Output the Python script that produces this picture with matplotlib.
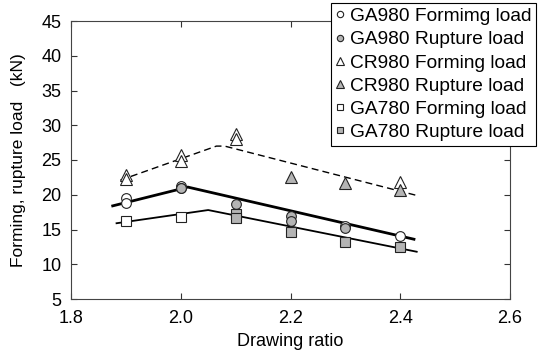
import matplotlib
matplotlib.use("Agg")
import matplotlib.pyplot as plt

plt.rcParams['font.family'] = ['Liberation Sans', 'DejaVu Sans']

# Data points
ga980_form_x = [1.9, 1.9, 2.0, 2.0, 2.3, 2.4]
ga980_form_y = [19.5, 18.8, 21.3, 21.0, 15.5, 14.1]
ga980_rup_x = [2.0, 2.1, 2.2, 2.2, 2.3]
ga980_rup_y = [20.9, 18.7, 17.0, 16.2, 15.2]
cr980_form_x = [1.9, 1.9, 2.0, 2.0, 2.1, 2.1, 2.4]
cr980_form_y = [22.8, 22.3, 25.7, 24.8, 28.7, 28.0, 21.8]
cr980_rup_x = [2.2, 2.3, 2.4]
cr980_rup_y = [22.6, 21.7, 20.7]
ga780_form_x = [1.9, 2.0]
ga780_form_y = [16.2, 16.8]
ga780_rup_x = [2.1, 2.1, 2.2, 2.3, 2.4]
ga780_rup_y = [17.2, 16.7, 14.6, 13.2, 12.5]

# Fitted trend lines
cr980_line_x = [1.89, 2.065, 2.08, 2.43]
cr980_line_y = [22.1, 27.0, 27.0, 19.9]
ga980_line_x = [1.876, 2.013, 2.425]
ga980_line_y = [18.4, 21.1, 13.6]
ga780_line_x = [1.883, 2.05, 2.43]
ga780_line_y = [15.9, 17.8, 11.8]

xticks = [1.8, 2.0, 2.2, 2.4, 2.6]
yticks = [5, 10, 15, 20, 25, 30, 35, 40, 45]

fig = plt.figure(figsize=(5.39, 3.54), dpi=100)
ax = fig.add_axes([71/539, 55/354, (510-71)/539, (299-21)/354])

gray = '#b4b4b4'
ec = '#222222'
ms = 7
mew = 0.8

ax.plot(cr980_line_x, cr980_line_y, color='black', lw=1.0, ls=(0, (5, 3)), zorder=2)
ax.plot(ga980_line_x, ga980_line_y, color='black', lw=2.0, zorder=2)
ax.plot(ga780_line_x, ga780_line_y, color='black', lw=1.3, zorder=2)

h1, = ax.plot(ga980_form_x, ga980_form_y, ls='none', marker='o', ms=ms, mfc='white', mec=ec, mew=mew, zorder=3)
h2, = ax.plot(ga980_rup_x, ga980_rup_y, ls='none', marker='o', ms=ms, mfc=gray, mec=ec, mew=mew, zorder=3)
h3, = ax.plot(cr980_form_x, cr980_form_y, ls='none', marker='^', ms=ms+1, mfc='white', mec=ec, mew=mew, zorder=3)
h4, = ax.plot(cr980_rup_x, cr980_rup_y, ls='none', marker='^', ms=ms+1, mfc=gray, mec=ec, mew=mew, zorder=3)
h5, = ax.plot(ga780_form_x, ga780_form_y, ls='none', marker='s', ms=ms-0.5, mfc='white', mec=ec, mew=mew, zorder=3)
h6, = ax.plot(ga780_rup_x, ga780_rup_y, ls='none', marker='s', ms=ms-0.5, mfc=gray, mec=ec, mew=mew, zorder=3)

ax.set_xlim(1.8, 2.6)
ax.set_ylim(5, 45)
ax.set_xticks(xticks)
ax.set_xticklabels([f"{v:.1f}" for v in xticks])
ax.set_yticks(yticks)
ax.tick_params(direction='in', top=True, right=True, labelsize=13, length=4, width=0.8,
               colors='#333333', labelcolor='black')
ax.tick_params(axis='y', pad=7)
ax.tick_params(axis='x', pad=8)
for s in ax.spines.values():
    s.set_color('#444444')
    s.set_linewidth(0.8)

ax.set_xlabel('Drawing ratio', fontsize=13, labelpad=4)
ax.set_ylabel('Forming, rupture load   (kN)', fontsize=12.5, labelpad=11)

labels = ['GA980 Formimg load', 'GA980 Rupture load', 'CR980 Forming load',
          'CR980 Rupture load', 'GA780 Forming load', 'GA780 Rupture load']
leg = fig.legend([h1, h2, h3, h4, h5, h6], labels, loc='upper right',
                 bbox_to_anchor=(536/539, 1 - 3/354), fontsize=13.8, frameon=True,
                 fancybox=False, edgecolor='black', framealpha=1, borderpad=0.25,
                 handlelength=0.45, handletextpad=0.3, labelspacing=0.3,
                 borderaxespad=0, markerscale=0.65)
leg.get_frame().set_linewidth(0.8)
leg.set_zorder(10)

fig.savefig('out.png', dpi=100)
